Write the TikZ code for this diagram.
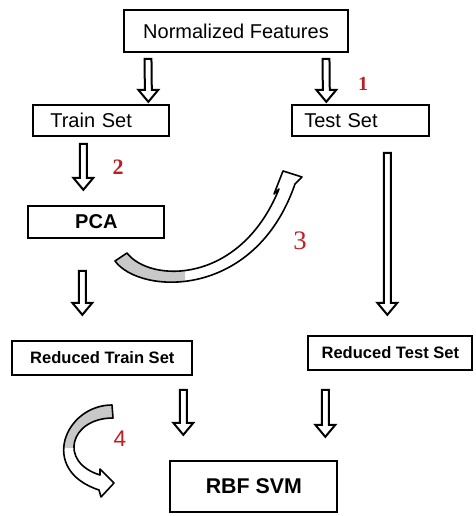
\documentclass[tikz,border=0pt]{standalone}
\usepackage{fontspec}
\setmainfont{Liberation Sans}
\newfontfamily\numfont{Liberation Serif}
\usetikzlibrary{calc}
\definecolor{numred}{RGB}{190,30,35}
\definecolor{backgray}{RGB}{200,200,200}

\tikzset{
  box/.style={draw, rectangle, line width=1.5pt, inner sep=0pt, fill=white},
  num/.style={text=numred, inner sep=0pt},
  hollow/.style={draw, line width=1.5pt, fill=white, line join=miter,
    to path={let \p1=(\tikztostart), \p2=(\tikztotarget) in
      (\x1-2.6pt,\y1) -- (\x1+2.6pt,\y1) -- (\x2+2.6pt,\y2+9pt) -- (\x2+7.5pt,\y2+9pt)
      -- (\x2,\y2) -- (\x2-7.5pt,\y2+9pt) -- (\x2-2.6pt,\y2+9pt) -- cycle}},
  curvearrow/.style={draw, line width=1.2pt, line join=round}
}

\begin{document}
\begin{tikzpicture}[x=0.75pt, y=-0.75pt]
  \useasboundingbox (0,0) rectangle (475,516);
  \node[box, minimum width=168pt, minimum height=31.5pt, font=\fontsize{15}{18}\selectfont] (nf) at (236,31) {Normalized Features};
  \node[box, below of=nf, node distance=67pt, xshift=-101pt, text width=76.5pt, align=left, inner xsep=12.75pt, minimum height=23.25pt, font=\fontsize{15}{18}\selectfont] (train) {Train Set};
  \node[box, right of=train, node distance=194.6pt, text width=84.75pt, align=left, inner xsep=9pt, minimum height=23.25pt, font=\fontsize{15}{18}\selectfont] (test) {Test Set};
  \node[box, below of=train, node distance=76.1pt, xshift=-3.75pt, minimum width=102pt, minimum height=24pt, font=\fontsize{15}{18}\selectfont\bfseries] (pca) {PCA};
  \node[box, below of=pca, node distance=102pt, xshift=4.5pt, minimum width=135pt, minimum height=25.5pt, font=\fontsize{12.4}{15}\selectfont\bfseries] (rtrain) {Reduced Train Set};
  \node[box, right of=rtrain, node distance=216pt, yshift=3.75pt, minimum width=123pt, minimum height=25.5pt, font=\fontsize{12.4}{15}\selectfont\bfseries] (rtest) {Reduced Test Set};
  \node[box, below of=rtrain, node distance=96.4pt, xshift=113.6pt, minimum width=125.25pt, minimum height=38.25pt, font=\fontsize{16}{19}\selectfont\bfseries] (rbf) {RBF SVM};

  \draw[hollow] ($(nf.south west)+(25,6)$) to ($(train.north west)+(116,-2)$);
  \draw[hollow] ($(nf.south west)+(203,6)$) to ($(test.north west)+(35,-2)$);
  \draw[hollow] ($(train.south west)+(51,7)$) to ($(pca.north west)+(56,-15)$);
  \draw[hollow] ($(pca.south west)+(55,32)$) to ($(rtrain.north west)+(71,-25)$);
  \draw[hollow] ($(test.south west)+(96,16)$) to ($(rtest.north west)+(80,-20)$);
  \draw[hollow] ($(rtrain.south west)+(172,14)$) to ($(rbf.north west)+(14,-25)$);
  \draw[hollow] ($(rtest.south west)+(18,19)$) to ($(rbf.north east)+(-13,-23)$);

  \node[num, font=\numfont\bfseries\fontsize{15}{15}\selectfont] (n1) at (363,84) {1};
  \node[num, font=\numfont\bfseries\fontsize{16.5}{16.5}\selectfont] (n2) at (118,167) {2};
  \node[num, font=\numfont\fontsize{20}{20}\selectfont] (n3) at (300,241) {3};
  \node[num, font=\fontsize{17}{17}\selectfont] (n4) at (120,439) {4};

  \fill[white] (115,261) .. controls (140,295) and (255,300) .. (295,184)
    -- (302,177) -- (283,171) -- (274,194) -- (279,189)
    .. controls (240,285) and (150,283) .. (127,253) -- cycle;
  \begin{scope}
    \clip (100,240) rectangle (185,300);
    \fill[backgray] (115,261) .. controls (140,295) and (255,300) .. (295,184)
      -- (279,189) .. controls (240,285) and (150,283) .. (127,253) -- cycle;
  \end{scope}
  \draw[curvearrow] (115,261) .. controls (140,295) and (255,300) .. (295,184)
    -- (302,177) -- (283,171) -- (274,194) -- (279,189)
    .. controls (240,285) and (150,283) .. (127,253) -- cycle;

  \fill[white] (112,405) .. controls (65,405) and (38,470) .. (99,490)
    -- (101,497) -- (114,483) -- (100,469) -- (100,475)
    .. controls (58,462) and (70,418) .. (113,418) -- cycle;
  \begin{scope}
    \clip (30,395) rectangle (125,447);
    \fill[backgray] (112,405) .. controls (65,405) and (38,470) .. (99,490)
      -- (100,475) .. controls (58,462) and (70,418) .. (113,418) -- cycle;
  \end{scope}
  \draw[curvearrow] (112,405) .. controls (65,405) and (38,470) .. (99,490)
    -- (101,497) -- (114,483) -- (100,469) -- (100,475)
    .. controls (58,462) and (70,418) .. (113,418) -- cycle;
\end{tikzpicture}
\end{document}
